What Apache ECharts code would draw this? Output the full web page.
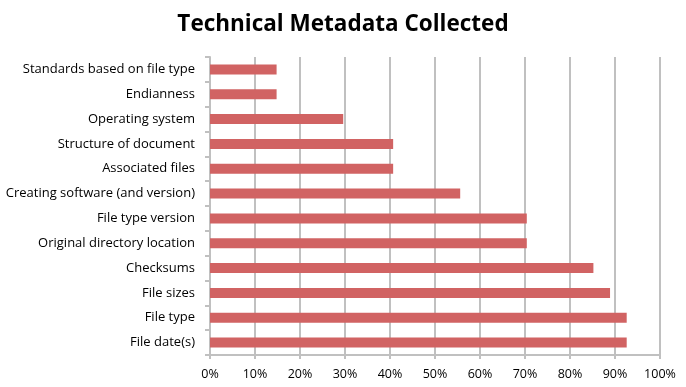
<!DOCTYPE html>
<html><head><meta charset="utf-8">
<script src="https://cdn.jsdelivr.net/npm/echarts@6/dist/echarts.min.js"></script>
<style>html,body{margin:0;padding:0;background:#fff}#c{width:686px;height:387px}</style>
</head><body><div id="c"></div>
<script>
const categories = ["File date(s)","File type","File sizes","Checksums","Original directory location","File type version","Creating software (and version)","Associated files","Structure of document","Operating system","Endianness","Standards based on file type"];
const values = [92.6,92.6,88.9,85.2,70.4,70.4,55.6,40.7,40.7,29.6,14.8,14.8];
const xTicks = {min:0,max:100,interval:10};
const chart = echarts.init(document.getElementById('c'));
chart.setOption({
  animation:false,
  title:{text:"Technical Metadata Collected",left:'center',top:8,textStyle:{fontFamily:"Open Sans",fontWeight:'bold',fontSize:22.5,color:'#000'}},
  grid:{left:210,right:26,top:57,bottom:32,containLabel:false},
  xAxis:{type:'value',min:xTicks.min,max:xTicks.max,interval:xTicks.interval,
    axisLabel:{formatter:'{value}%',color:'#000',fontFamily:"Open Sans",fontSize:12.5,margin:13},
    axisLine:{show:true,lineStyle:{color:'#c0c0c0',width:2}},
    axisTick:{show:true,length:4,lineStyle:{color:'#c0c0c0',width:2}},
    splitLine:{show:true,lineStyle:{color:'#c0c0c0',width:2}}},
  yAxis:{type:'category',data:categories,
    axisLabel:{color:'#000',fontFamily:"Open Sans",fontSize:13,margin:15,padding:[3,0,0,0]},
    axisLine:{show:true,lineStyle:{color:'#c0c0c0',width:2}},
    axisTick:{show:true,length:5,lineStyle:{color:'#c0c0c0',width:2}}},
  series:[{type:'bar',data:values,barWidth:10,itemStyle:{color:'#D16363'}}]
});
</script></body></html>
